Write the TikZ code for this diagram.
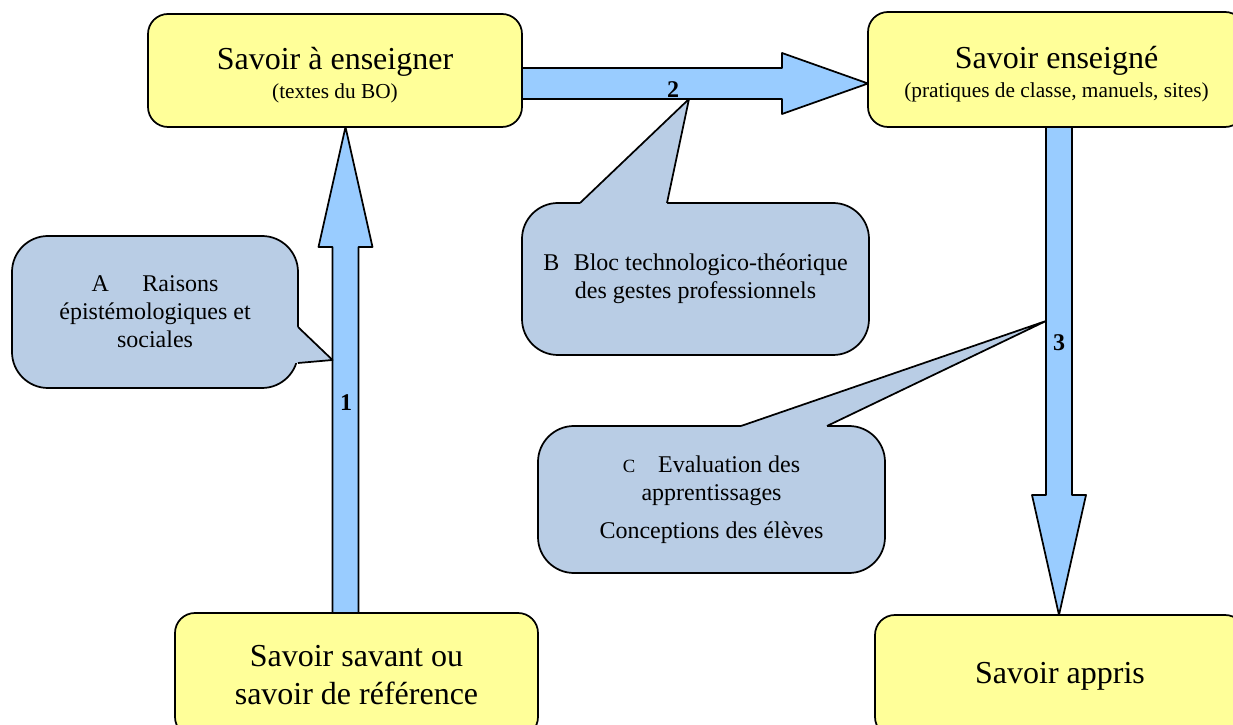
\documentclass[tikz,border=0pt]{standalone}
\usepackage{fontspec}
\setmainfont{Liberation Serif}
\usetikzlibrary{calc}
\newcommand{\unitpx}{0.75pt}
\definecolor{boxyellow}{HTML}{FFFF99}
\definecolor{bubbleblue}{HTML}{B9CDE5}
\definecolor{flowblue}{HTML}{99CCFF}

\begin{document}
\begin{tikzpicture}
\useasboundingbox (0,0) rectangle (1233*\unitpx,725*\unitpx);
\tikzstyle{savoir}=[draw,
                    fill=boxyellow,
                    line width=1.3pt,
                    rounded corners=15pt,
                    inner sep=0pt,
                    outer sep=0pt,
                    align=center,
                    font=\fontsize{24}{28}\selectfont
                    ]
\tikzstyle{bubble}=[draw,
                    fill=bubbleblue,
                    line width=1.3pt,
                    rounded corners=27pt,
                    inner sep=0pt,
                    outer sep=0pt,
                    align=center,
                    font=\fontsize{18}{21}\selectfont
                    ]
\tikzstyle{flow}=[draw, fill=flowblue, line width=1.3pt, line join=round]
\tikzstyle{edge}=[line width=1.3pt, line join=round]
\tikzstyle{numlabel}=[inner sep=0pt, font=\fontsize{18}{20}\selectfont\bfseries]
% the four boxes
\node[savoir, minimum width=374*\unitpx, minimum height=113*\unitpx] (ens) at (335*\unitpx,654.5*\unitpx)
  {\rule{0pt}{24pt}Savoir à enseigner\\[-6pt]{\fontsize{16}{19}\selectfont (textes du BO)}};
\node[savoir, minimum width=377*\unitpx, minimum height=115*\unitpx] (eng) at (1056.5*\unitpx,655.5*\unitpx)
  {\rule{0pt}{24pt}Savoir enseigné\\[-6pt]{\fontsize{16}{19}\selectfont (pratiques de classe, manuels, sites)}};
\node[savoir, minimum width=363*\unitpx, minimum height=124*\unitpx] (sav) at (356.5*\unitpx,50*\unitpx)
  {Savoir savant ou\\savoir de référence};
\node[savoir, minimum width=370*\unitpx, minimum height=122*\unitpx] (app) at (1060*\unitpx,49*\unitpx)
  {Savoir appris};
% block arrows
\coordinate (a1) at (345.5*\unitpx,0);
\coordinate (a2) at (0,641.5*\unitpx);
\coordinate (a3) at (1059*\unitpx,0);
\draw[flow] ($(sav.north -| a1)+(-13*\unitpx,0)$) |- ($(ens.south -| a1)+(-27*\unitpx,-120*\unitpx)$)
  -- (ens.south -| a1) -- ($(ens.south -| a1)+(27*\unitpx,-120*\unitpx)$) -| ($(sav.north -| a1)+(13*\unitpx,0)$) -- cycle;
\draw[flow] ($(ens.east |- a2)+(0,15.5*\unitpx)$) -| ($(eng.west |- a2)+(-86*\unitpx,30.5*\unitpx)$)
  -- (eng.west |- a2) -- ($(eng.west |- a2)+(-86*\unitpx,-30.5*\unitpx)$) |- ($(ens.east |- a2)+(0,-15.5*\unitpx)$) -- cycle;
\draw[flow] ($(eng.south -| a3)+(-13*\unitpx,0)$) |- ($(app.north -| a3)+(-27*\unitpx,120*\unitpx)$)
  -- (app.north -| a3) -- ($(app.north -| a3)+(27*\unitpx,120*\unitpx)$) -| ($(eng.south -| a3)+(13*\unitpx,0)$) -- cycle;
\node[numlabel] (n1) at (346*\unitpx,322*\unitpx) {1};
\node[numlabel] (n2) at (673*\unitpx,635*\unitpx) {2};
\node[numlabel] (n3) at (1059*\unitpx,382*\unitpx) {3};
% callouts
\node[bubble, minimum width=286*\unitpx, minimum height=152*\unitpx] (bubA) at (155*\unitpx,413*\unitpx)
  {A\hspace{1.4em}Raisons\\épistémologiques et\\sociales};
\node[bubble, minimum width=347*\unitpx, minimum height=152*\unitpx] (bubB) at (695.5*\unitpx,446*\unitpx)
  {B\hspace{0.6em}Bloc technologico-théorique\\des gestes professionnels};
\node[bubble, minimum width=347*\unitpx, minimum height=147*\unitpx] (bubC) at (711.5*\unitpx,225.5*\unitpx)
  {{\fontsize{14}{21}\selectfont C}\hspace{0.95em}Evaluation des\\apprentissages\\[7.5pt]Conceptions des élèves};
\coordinate (tipA) at ($(a1)+(-13*\unitpx,365*\unitpx)$);
\coordinate (tipB) at ($(a2)+(689*\unitpx,-15.5*\unitpx)$);
\coordinate (tipC) at ($(a3)+(-13*\unitpx,404*\unitpx)$);
\coordinate (bA1) at ($(bubA.east)+(0,-15*\unitpx)$);
\coordinate (bA2) at ($(bubA.east)+(0,-51*\unitpx)$);
\coordinate (bB1) at ($(bubB.north)+(-115.5*\unitpx,0)$);
\coordinate (bB2) at ($(bubB.north)+(-28.5*\unitpx,0)$);
\coordinate (bC1) at ($(bubC.north)+(29.5*\unitpx,0)$);
\coordinate (bC2) at ($(bubC.north)+(115.5*\unitpx,0)$);
\fill[bubbleblue] ($(bA1)+(-5*\unitpx,0)$) -- (bA1) -- (tipA) -- (bA2) -- ($(bA2)+(-5*\unitpx,0)$) -- cycle;
\draw[edge] (bA1) -- (tipA) -- (bA2);
\fill[bubbleblue] ($(bB1)+(0,-5*\unitpx)$) -- (bB1) -- (tipB) -- (bB2) -- ($(bB2)+(0,-5*\unitpx)$) -- cycle;
\draw[edge] (bB1) -- (tipB) -- (bB2);
\fill[bubbleblue] ($(bC1)+(0,-5*\unitpx)$) -- (bC1) -- (tipC) -- (bC2) -- ($(bC2)+(0,-5*\unitpx)$) -- cycle;
\draw[edge] (bC1) -- (tipC) -- (bC2);
\end{tikzpicture}
\end{document}
